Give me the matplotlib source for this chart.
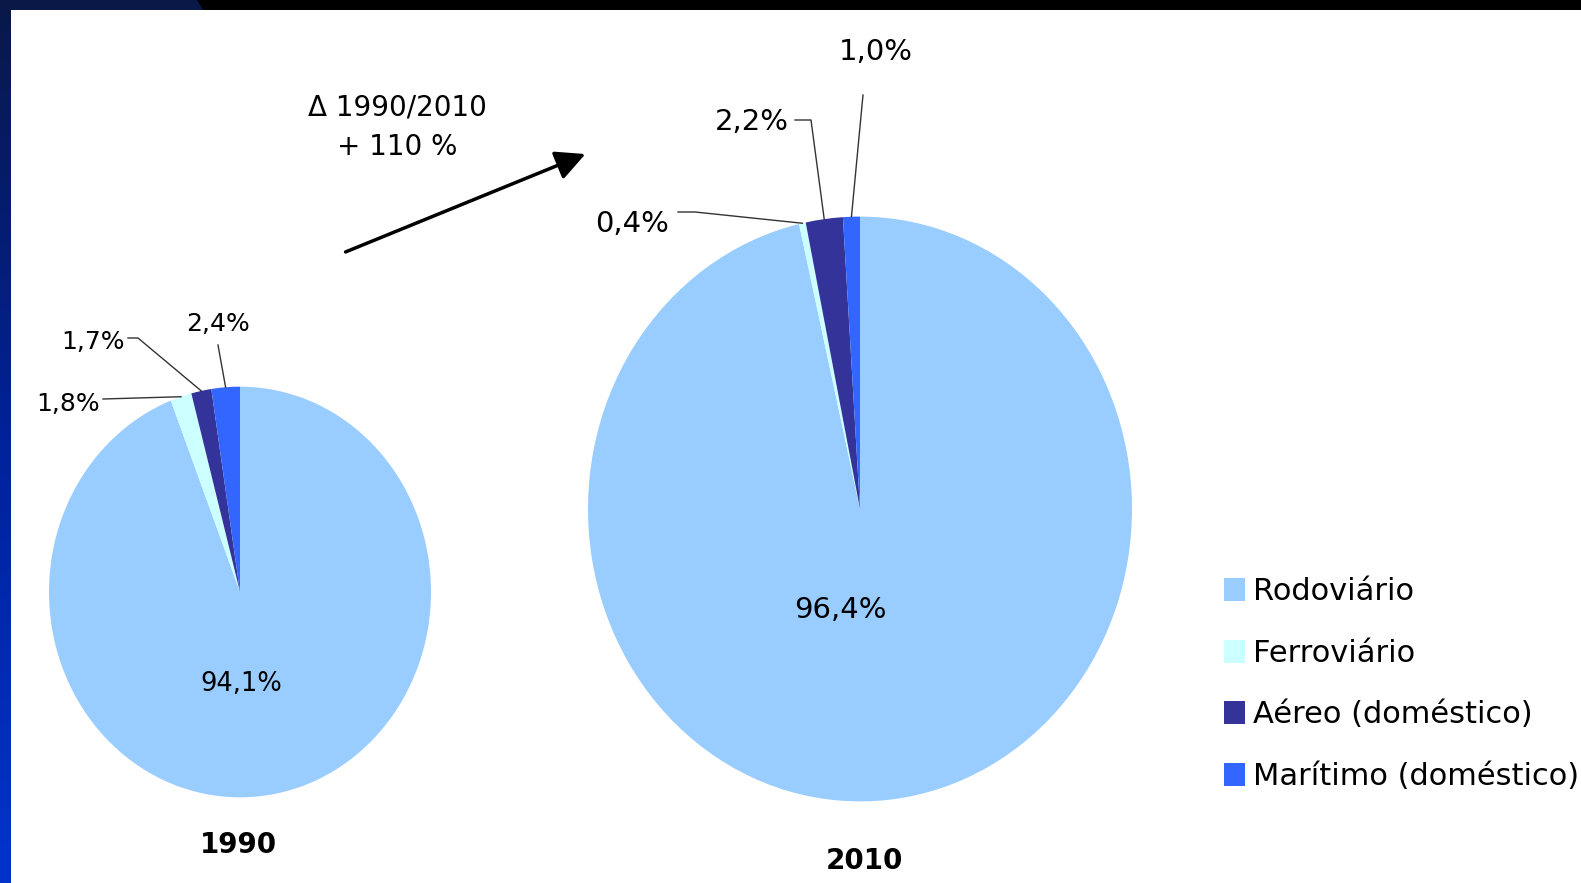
import numpy as np
import matplotlib
matplotlib.use("Agg")
from matplotlib import pyplot as plt
from matplotlib.patches import Polygon, Rectangle
from matplotlib.colors import LinearSegmentedColormap

# data
categories = ["Rodoviário", "Ferroviário", "Aéreo (doméstico)", "Marítimo (doméstico)"]
years = ["1990", "2010"]
shares_1990 = [94.1, 1.8, 1.7, 2.4]
shares_2010 = [96.4, 0.4, 2.2, 1.0]
delta_txt = ["\u0394 1990/2010", "+ 110 %"]
colors = ["#99ccff", "#ccffff", "#333399", "#3366ff"]

W, H = 1581, 883
SY = 1.075  # slide was stretched a bit vertically


def pt(px, py):
    # pixel position on the slide -> data coords
    return px, (H - py) / SY


def pct(v):
    return ("%.1f" % v).replace(".", ",") + "%"


fig = plt.figure(figsize=(W / 100, H / 100), dpi=100)
fig.patch.set_facecolor("white")

# slide decoration: left gradient strip + top bar
grad = fig.add_axes([0, 0, 11 / W, 1])
cmap = LinearSegmentedColormap.from_list("bord", ["#0a1848", "#00229a", "#0033cc"])
grad.imshow(np.linspace(0, 1, 200).reshape(-1, 1), aspect="auto", cmap=cmap)
grad.axis("off")
fig.add_artist(Rectangle((0, 1 - 10 / H), 1, 10 / H, transform=fig.transFigure, color="black", lw=0))
fig.add_artist(Polygon([(0, 1), (197 / W, 1), (203 / W, 1 - 10 / H), (0, 1 - 10 / H)],
                       closed=True, transform=fig.transFigure, color="#0a1848", lw=0))

ax = fig.add_axes([0, 0, 1, 1])
ax.patch.set_alpha(0)

pies = [
    # center px, radius px, share list, inner label px, small labels px, year px
    dict(c=(240, 592), r=191, v=shares_1990, main=(241, 684), year=(238, 845), fs=18,
         mfs=18.5, lab=[None, (68, 404), (93, 342), (218, 324)],
         elb=[None, [(103, 399)], [(128, 338), (138, 338)], [(218, 345)]]),
    dict(c=(860, 509), r=272, v=shares_2010, main=(840, 610), year=(864, 861), fs=21,
         mfs=21, lab=[None, (632, 224), (752, 122), (876, 52)],
         elb=[None, [(678, 212), (695, 212)], [(795, 120), (811, 120)], [(863, 95)]]),
]

wedges = None
for i, p in enumerate(pies):
    cx, cy = pt(*p["c"])
    r = p["r"]
    w, _ = ax.pie(p["v"], colors=colors, startangle=90, counterclock=False,
                  center=(cx, cy), radius=r, wedgeprops=dict(linewidth=0))
    if wedges is None:
        wedges = w
    vals = np.array(p["v"])
    cum = np.cumsum(vals) - vals / 2
    for k in range(len(vals)):
        if k == 0:
            ax.text(*pt(*p["main"]), pct(vals[k]), ha="center", va="center", fontsize=p["mfs"])
            continue
        th = np.deg2rad(360 * cum[k] / vals.sum())
        ex, ey = cx + r * np.sin(th), cy + r * np.cos(th)
        pts = [pt(*q) for q in p["elb"][k]] + [(ex, ey)]
        ax.plot([q[0] for q in pts], [q[1] for q in pts], color="#333333", lw=1)
        ax.text(*pt(*p["lab"][k]), pct(vals[k]), ha="center", va="center", fontsize=p["fs"])
    ax.text(*pt(*p["year"]), years[i], ha="center", va="center", fontsize=20, fontweight="bold")

# growth arrow and text
ax.annotate("", xy=pt(588, 153), xytext=pt(343, 253),
            arrowprops=dict(arrowstyle="-|>", lw=2.5, color="black", mutation_scale=45))
ax.text(*pt(397, 107), delta_txt[0], ha="center", va="center", fontsize=20)
ax.text(*pt(397, 147), delta_txt[1], ha="center", va="center", fontsize=20)

ax.set_xlim(0, W)
ax.set_ylim(0, H / SY)
ax.set_aspect("auto")
ax.axis("off")

leg = ax.legend(wedges, categories, loc="upper left", bbox_to_anchor=(1224 / W, 1 - 577 / H),
                bbox_transform=fig.transFigure, frameon=False, fontsize=22,
                handlelength=0.69, handleheight=0.78, handletextpad=0.26,
                labelspacing=1.07, borderpad=0, borderaxespad=0)

fig.savefig("out.png", dpi=100, facecolor="white")
